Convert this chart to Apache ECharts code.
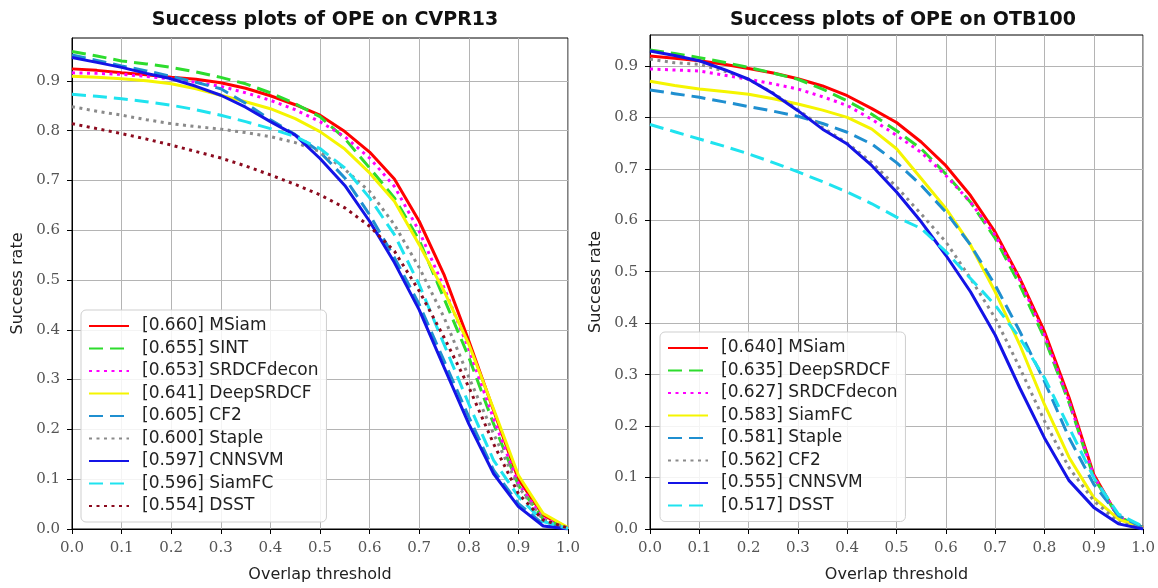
<!DOCTYPE html>
<html lang="en">
<head>
  <meta charset="utf-8">
  <script src="https://cdn.jsdelivr.net/npm/echarts@6.0.0/dist/echarts.min.js"></script>
</head>
<body style="margin: 0; background: #fff">
  <div id="container" style="width: 1158px; height: 588px;"></div>
  <script type="text/javascript">
    // overlap thresholds (x) and axis ticks
    var thresholds = [0, 0.05, 0.1, 0.15, 0.2, 0.25, 0.3, 0.35, 0.4, 0.45, 0.5,
                      0.55, 0.6, 0.65, 0.7, 0.75, 0.8, 0.85, 0.9, 0.95, 1.0];
    var xTicks = [0, 0.1, 0.2, 0.3, 0.4, 0.5, 0.6, 0.7, 0.8, 0.9, 1.0];
    var yTicks = [0, 0.1, 0.2, 0.3, 0.4, 0.5, 0.6, 0.7, 0.8, 0.9];

    // CVPR13 panel
    var cvprNames = ['MSiam', 'SINT', 'SRDCFdecon', 'DeepSRDCF', 'CF2', 'Staple', 'CNNSVM', 'SiamFC', 'DSST'];
    var cvprScores = ['0.660', '0.655', '0.653', '0.641', '0.605', '0.600', '0.597', '0.596', '0.554'];
    var cvprMSiam = [0.924, 0.921, 0.916, 0.912, 0.907, 0.903, 0.896, 0.885, 0.870, 0.852, 0.831, 0.798, 0.757, 0.703, 0.618, 0.511, 0.378, 0.238, 0.100, 0.028, 0.002];
    var cvprSINT = [0.959, 0.950, 0.940, 0.934, 0.927, 0.918, 0.907, 0.894, 0.876, 0.854, 0.828, 0.784, 0.725, 0.665, 0.580, 0.463, 0.345, 0.211, 0.088, 0.020, 0.002];
    var cvprSRDCFdecon = [0.916, 0.915, 0.913, 0.909, 0.904, 0.897, 0.889, 0.876, 0.861, 0.842, 0.818, 0.788, 0.745, 0.688, 0.598, 0.485, 0.361, 0.221, 0.091, 0.021, 0.002];
    var cvprDeepSRDCF = [0.909, 0.907, 0.904, 0.900, 0.894, 0.884, 0.871, 0.858, 0.844, 0.824, 0.798, 0.763, 0.715, 0.658, 0.571, 0.478, 0.371, 0.241, 0.108, 0.031, 0.003];
    var cvprCF2 = [0.952, 0.941, 0.930, 0.920, 0.909, 0.897, 0.884, 0.855, 0.822, 0.792, 0.757, 0.705, 0.631, 0.545, 0.451, 0.338, 0.225, 0.118, 0.051, 0.010, 0.001];
    var cvprStaple = [0.848, 0.839, 0.831, 0.822, 0.814, 0.808, 0.803, 0.796, 0.788, 0.776, 0.758, 0.722, 0.678, 0.611, 0.525, 0.425, 0.305, 0.191, 0.085, 0.018, 0.002];
    var cvprCNNSVM = [0.947, 0.937, 0.927, 0.915, 0.904, 0.889, 0.871, 0.847, 0.818, 0.791, 0.744, 0.690, 0.618, 0.535, 0.440, 0.325, 0.211, 0.111, 0.045, 0.006, 0.000];
    var cvprSiamFC = [0.873, 0.869, 0.864, 0.858, 0.851, 0.842, 0.831, 0.818, 0.804, 0.788, 0.764, 0.725, 0.665, 0.591, 0.491, 0.371, 0.251, 0.138, 0.065, 0.015, 0.001];
    var cvprDSST = [0.814, 0.804, 0.794, 0.783, 0.771, 0.758, 0.745, 0.729, 0.711, 0.692, 0.671, 0.645, 0.608, 0.558, 0.478, 0.385, 0.285, 0.171, 0.071, 0.018, 0.002];

    // OTB100 panel
    var otbNames = ['MSiam', 'DeepSRDCF', 'SRDCFdecon', 'SiamFC', 'Staple', 'CF2', 'CNNSVM', 'DSST'];
    var otbScores = ['0.640', '0.635', '0.627', '0.583', '0.581', '0.562', '0.555', '0.517'];
    var otbMSiam = [0.919, 0.915, 0.910, 0.903, 0.895, 0.886, 0.875, 0.861, 0.842, 0.817, 0.790, 0.752, 0.706, 0.648, 0.577, 0.487, 0.384, 0.255, 0.106, 0.023, 0.003];
    var otbDeepSRDCF = [0.931, 0.924, 0.916, 0.907, 0.897, 0.886, 0.874, 0.855, 0.832, 0.806, 0.774, 0.739, 0.690, 0.635, 0.565, 0.474, 0.371, 0.245, 0.100, 0.023, 0.003];
    var otbSRDCFdecon = [0.894, 0.892, 0.890, 0.882, 0.874, 0.865, 0.855, 0.840, 0.823, 0.796, 0.765, 0.732, 0.687, 0.635, 0.571, 0.484, 0.377, 0.248, 0.103, 0.023, 0.003];
    var otbSiamFC = [0.870, 0.862, 0.855, 0.850, 0.845, 0.836, 0.826, 0.814, 0.800, 0.777, 0.739, 0.681, 0.623, 0.552, 0.461, 0.358, 0.242, 0.139, 0.061, 0.019, 0.002];
    var otbStaple = [0.853, 0.846, 0.839, 0.830, 0.821, 0.812, 0.802, 0.788, 0.771, 0.748, 0.712, 0.668, 0.616, 0.552, 0.474, 0.384, 0.287, 0.177, 0.087, 0.026, 0.003];
    var otbCF2 = [0.913, 0.906, 0.903, 0.890, 0.874, 0.847, 0.815, 0.780, 0.750, 0.712, 0.665, 0.612, 0.558, 0.487, 0.410, 0.313, 0.210, 0.119, 0.055, 0.013, 0.001];
    var otbCNNSVM = [0.929, 0.920, 0.910, 0.893, 0.874, 0.846, 0.813, 0.777, 0.748, 0.706, 0.655, 0.597, 0.532, 0.461, 0.377, 0.274, 0.177, 0.094, 0.042, 0.010, 0.000];
    var otbDSST = [0.786, 0.772, 0.758, 0.744, 0.729, 0.712, 0.694, 0.675, 0.655, 0.632, 0.606, 0.584, 0.539, 0.487, 0.435, 0.371, 0.294, 0.197, 0.100, 0.029, 0.005];

    // styles go by rank in each legend
    var rankColors = ['#ff0000', '#2ddc2d', '#ff00ff', '#f5f500', '#1f8fd0', '#8a8a8a', '#1414e6', '#1fe3ef', '#8b0a1e'];
    var rankDash = ['solid', [14, 7], [3, 4.5], 'solid', [14, 7], [3, 4.5], 'solid', [14, 7], [3, 4.5]];

    var cvprValues = [cvprMSiam, cvprSINT, cvprSRDCFdecon, cvprDeepSRDCF, cvprCF2, cvprStaple, cvprCNNSVM, cvprSiamFC, cvprDSST];
    var otbValues = [otbMSiam, otbDeepSRDCF, otbSRDCFdecon, otbSiamFC, otbStaple, otbCF2, otbCNNSVM, otbDSST];

    var dom = document.getElementById('container');
    var myChart = echarts.init(dom, null, { renderer: 'canvas' });

    var sansFont = '"DejaVu Sans", sans-serif';
    var serifFont = '"DejaVu Serif", serif';

    function makeSeries(names, scores, values, axisIdx) {
      var out = [];
      var labels = [];
      for (var i = 0; i < names.length; i++) {
        var label = '[' + scores[i] + '] ' + names[i];
        labels.push(label);
        var pts = [];
        for (var j = 0; j < thresholds.length; j++) {
          pts.push([thresholds[j], values[i][j]]);
        }
        out.push({
          name: label,
          type: 'line',
          xAxisIndex: axisIdx,
          yAxisIndex: axisIdx,
          data: pts,
          symbol: 'none',
          smooth: false,
          color: rankColors[i],
          lineStyle: { color: rankColors[i], width: 3, type: rankDash[i] },
          z: 2 + i
        });
      }
      return { series: out, labels: labels };
    }

    var left = makeSeries(cvprNames, cvprScores, cvprValues, 0);
    var right = makeSeries(otbNames, otbScores, otbValues, 1);

    function xAxisOpt(idx) {
      return {
        type: 'value', gridIndex: idx, min: 0, max: 1, interval: 0.1,
        name: 'Overlap threshold', nameLocation: 'middle', nameGap: 38,
        nameTextStyle: { fontFamily: sansFont, fontSize: 16, color: '#222' },
        axisLine: { show: true, lineStyle: { color: '#000', width: 1 } },
        axisTick: { show: true, length: 5, lineStyle: { color: '#000' } },
        axisLabel: {
          fontFamily: serifFont, fontSize: 15, color: '#555', margin: 12,
          formatter: function (v) { return v.toFixed(1); }
        },
        splitLine: { show: true, lineStyle: { color: '#b4b4b4', width: 1 } }
      };
    }

    function yAxisOpt(idx, maxVal) {
      return {
        type: 'value', gridIndex: idx, min: 0, max: maxVal, interval: 0.1,
        name: 'Success rate', nameLocation: 'middle', nameGap: 46, nameRotate: 90,
        nameTextStyle: { fontFamily: sansFont, fontSize: 16, color: '#222' },
        axisLine: { show: true, lineStyle: { color: '#000', width: 1 } },
        axisTick: { show: true, length: 5, lineStyle: { color: '#000' }, customValues: yTicks },
        axisLabel: {
          fontFamily: serifFont, fontSize: 15, color: '#555', margin: 12,
          customValues: yTicks,
          formatter: function (v) { return v.toFixed(1); }
        },
        splitLine: { show: true, lineStyle: { color: '#b4b4b4', width: 1 } }
      };
    }

    function legendOpt(labels, x, y) {
      return {
        data: labels, orient: 'vertical', left: x, top: y,
        itemWidth: 40, itemHeight: 12, itemGap: 4.5,
        padding: [7, 8, 7, 7],
        backgroundColor: 'rgba(255,255,255,0.85)',
        borderColor: '#cfcfcf', borderWidth: 1, borderRadius: 5,
        selectedMode: false,
        itemStyle: { opacity: 0, borderWidth: 0 },
        textStyle: { fontFamily: sansFont, fontSize: 17, color: '#222', lineHeight: 18, padding: [0, 0, 0, 8] }
      };
    }

    var option = {
      animation: false,
      backgroundColor: '#fff',
      title: [
        { text: 'Success plots of OPE on CVPR13', left: 320, top: 6, textAlign: 'center',
          textStyle: { fontFamily: sansFont, fontSize: 19, fontWeight: 'bold', color: '#111' } },
        { text: 'Success plots of OPE on OTB100', left: 898, top: 6, textAlign: 'center',
          textStyle: { fontFamily: sansFont, fontSize: 19, fontWeight: 'bold', color: '#111' } }
      ],
      grid: [
        { left: 72, right: 590, top: 38, bottom: 57, show: true, borderColor: '#000', borderWidth: 1, backgroundColor: '#fff' },
        { left: 650, right: 12, top: 35, bottom: 57, show: true, borderColor: '#000', borderWidth: 1, backgroundColor: '#fff' }
      ],
      xAxis: [xAxisOpt(0), xAxisOpt(1)],
      yAxis: [yAxisOpt(0, 0.986), yAxisOpt(1, 0.96)],
      legend: [legendOpt(left.labels, 81, 310), legendOpt(right.labels, 660, 332)],
      series: left.series.concat(right.series)
    };

    myChart.setOption(option);
  </script>
</body>
</html>
